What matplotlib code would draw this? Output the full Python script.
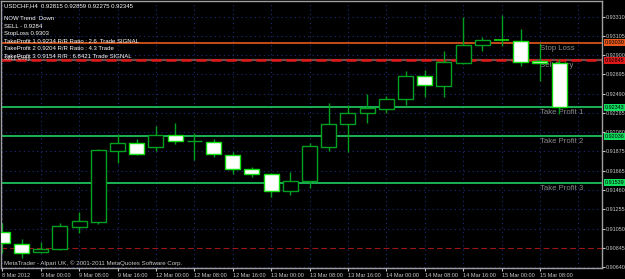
import numpy as np
import matplotlib
matplotlib.use('Agg')
import matplotlib.pyplot as plt

# USDCHF H4 candles, 8 Mar 16:00 .. 15 Mar 12:00
opens = [0.91013, 0.90885, 0.90800, 0.90832, 0.91067, 0.91120, 0.91877, 0.91963,
         0.91920, 0.92048, 0.91984, 0.91973, 0.91835, 0.91685, 0.91632, 0.91451,
         0.91557, 0.91920, 0.92165, 0.92283, 0.92325, 0.92432, 0.92677, 0.92571,
         0.92816, 0.93008, 0.93061, 0.93051, 0.92837, 0.92815]
highs = [0.91109, 0.90939, 0.90907, 0.91109, 0.91227, 0.91899, 0.92059, 0.92005,
         0.92144, 0.92176, 0.92069, 0.92005, 0.91867, 0.91707, 0.91640, 0.91653,
         0.91963, 0.92389, 0.92368, 0.92485, 0.92464, 0.92731, 0.92741, 0.92944,
         0.93307, 0.93093, 0.93328, 0.93179, 0.93029, 0.92859]
lows = [0.90789, 0.90736, 0.90789, 0.90825, 0.91003, 0.91099, 0.91749, 0.91835,
        0.91877, 0.91952, 0.91781, 0.91813, 0.91632, 0.91600, 0.91387, 0.91408,
        0.91483, 0.91877, 0.91867, 0.92176, 0.92283, 0.92368, 0.92453, 0.92453,
        0.92810, 0.92944, 0.92997, 0.92784, 0.92624, 0.92275]
closes = [0.90896, 0.90789, 0.90832, 0.91077, 0.91131, 0.91888, 0.91963, 0.91845,
          0.92048, 0.91984, 0.91985, 0.91845, 0.91685, 0.91632, 0.91451, 0.91557,
          0.91931, 0.92165, 0.92283, 0.92336, 0.92432, 0.92677, 0.92581, 0.92827,
          0.93008, 0.93061, 0.93061, 0.92827, 0.92816, 0.92345]

time_labels = ['8 Mar 2012', '9 Mar 00:00', '9 Mar 08:00', '9 Mar 16:00',
               '12 Mar 00:00', '12 Mar 08:00', '12 Mar 16:00', '13 Mar 00:00',
               '13 Mar 08:00', '13 Mar 16:00', '14 Mar 00:00', '14 Mar 08:00',
               '14 Mar 16:00', '15 Mar 00:00', '15 Mar 08:00']
price_ticks = [0.93310, 0.93105, 0.92900, 0.92695, 0.92490, 0.92285, 0.92080,
               0.91875, 0.91665, 0.91460, 0.91255, 0.91050, 0.90845, 0.90640]

stop_loss = 0.93030
sell_entry = 0.92845
take_profits = [0.92343, 0.92036, 0.91539]
low_line = 0.90840

info_lines = ['NOW Trend  Down', 'SELL - 0.9284', 'StopLoss 0.9303',
              'TakeProfit 1 0.9234 R/R Ratio : 2.6  Trade SIGNAL',
              'TakeProfit 2 0.9204 R/R Ratio : 4.3 Trade',
              'TakeProfit 3 0.9154 R/R : 6.8421 Trade SIGNAL']

W, H = 625, 279
plt.rcParams['font.family'] = ['Liberation Sans', 'DejaVu Sans']

fig = plt.figure(figsize=(W / 100, H / 100), dpi=100, facecolor='black')
ax = fig.add_axes([1 / W, 11 / H, 601 / W, 267 / H])
ax.set_facecolor('black')


def fig_xy(x, y):
    return x / W, 1 - y / H


o = np.array(opens); c = np.array(closes)
hi = np.array(highs); lo = np.array(lows)
idx = np.arange(len(o))
up = c > o
down = c < o
doji = c == o

# grid
grid_kw = dict(color='#1e2b78', lw=0.8, linestyle=(0, (1, 3)), zorder=0)
for p in price_ticks:
    ax.axhline(p, **grid_kw)
for i in range(0, 31, 2):
    ax.axvline(i, **grid_kw)

# level lines
ax.axhline(low_line, color='#a01414', lw=0.8, linestyle=(0, (5, 3)), zorder=1)
ax.axhline(stop_loss, color='#e8581c', lw=1.2, zorder=1)
ax.axhline(sell_entry, color='#7a4a4a', lw=1.6, zorder=1)
ax.axhline(sell_entry, color='#e01818', lw=1.8, linestyle=(0, (4, 2)), zorder=1)
for tp in take_profits:
    ax.axhline(tp, color='#1cc05a', lw=1.3, zorder=1)

# level names on the right (behind candles)
names = ['Stop Loss', 'Sell Entry', 'Take Profit 1', 'Take Profit 2', 'Take Profit 3']
levels = [stop_loss, sell_entry] + take_profits
for n, lv in zip(names, levels):
    ax.annotate(n, (28.0, lv), xytext=(0, -1.5), textcoords='offset points',
                color='#8a8a8a', fontsize=5.6, va='top', ha='left', zorder=1.5)

# candles
bw = 0.78
ax.vlines(idx, lo, hi, color='#00a020', lw=1, zorder=2)
ax.bar(idx[up], (c - o)[up], bottom=o[up], width=bw, color='black',
       edgecolor='#00a020', lw=1, zorder=3)
ax.bar(idx[down], (o - c)[down], bottom=c[down], width=bw, color='white',
       edgecolor='#10e010', lw=1, zorder=3)
ax.hlines(o[doji], idx[doji] - bw / 2, idx[doji] + bw / 2, color='#10e010', lw=1.2, zorder=3)

ax.set_xlim(-0.068, 31.23)
ax.set_ylim(0.90629, 0.93477)

# axes styling
for s in ax.spines.values():
    s.set_color('#a0a0a0')
    s.set_linewidth(1)
ax.yaxis.tick_right()
ax.set_yticks(price_ticks)
ax.set_yticklabels(['%.5f' % p for p in price_ticks])
ax.tick_params(axis='y', colors='#c8c8c8', labelsize=3.9, length=2, width=0.8, pad=1)
ax.set_xticks(idx[::2])
ax.set_xticklabels(time_labels, ha='left')
ax.tick_params(axis='x', colors='#c8c8c8', labelsize=4.0, length=2.5, width=0.8, pad=0.8)

# price boxes on the right axis
box_cols = ['#e8581c', '#e01818', '#10e060', '#10e060', '#10e060']
box_vals = [stop_loss, sell_entry] + take_profits
for col, v in zip(box_cols, box_vals):
    ax.annotate('%.5f' % v, (1, v), xycoords=('axes fraction', 'data'),
                xytext=(2.2, 0), textcoords='offset points', fontsize=3.9, color='black',
                va='center', ha='left', annotation_clip=False, zorder=10,
                bbox=dict(boxstyle='square,pad=0.2', fc=col, ec='none'))

# header text
fig.text(*fig_xy(4, 6), 'USDCHF,H4  0.92815 0.92859 0.92275 0.92345',
         color='white', fontsize=4.3, va='center', ha='left')
for k, line in enumerate(info_lines):
    fig.text(*fig_xy(4, 19 + 7.4 * k), line, color='white', fontsize=4.3,
             va='center', ha='left')
fig.text(*fig_xy(4, 58.5), 'SELL Entry', color='#d0d0d0', fontsize=3.8,
         va='center', ha='left', zorder=0)
fig.text(*fig_xy(4, 263), 'MetaTrader - Alpari UK, \u00a9 2001-2011 MetaQuotes Software Corp.',
         color='#c8c8c8', fontsize=4.4, va='center', ha='left')

fig.savefig('out.png', dpi=100, facecolor='black')
